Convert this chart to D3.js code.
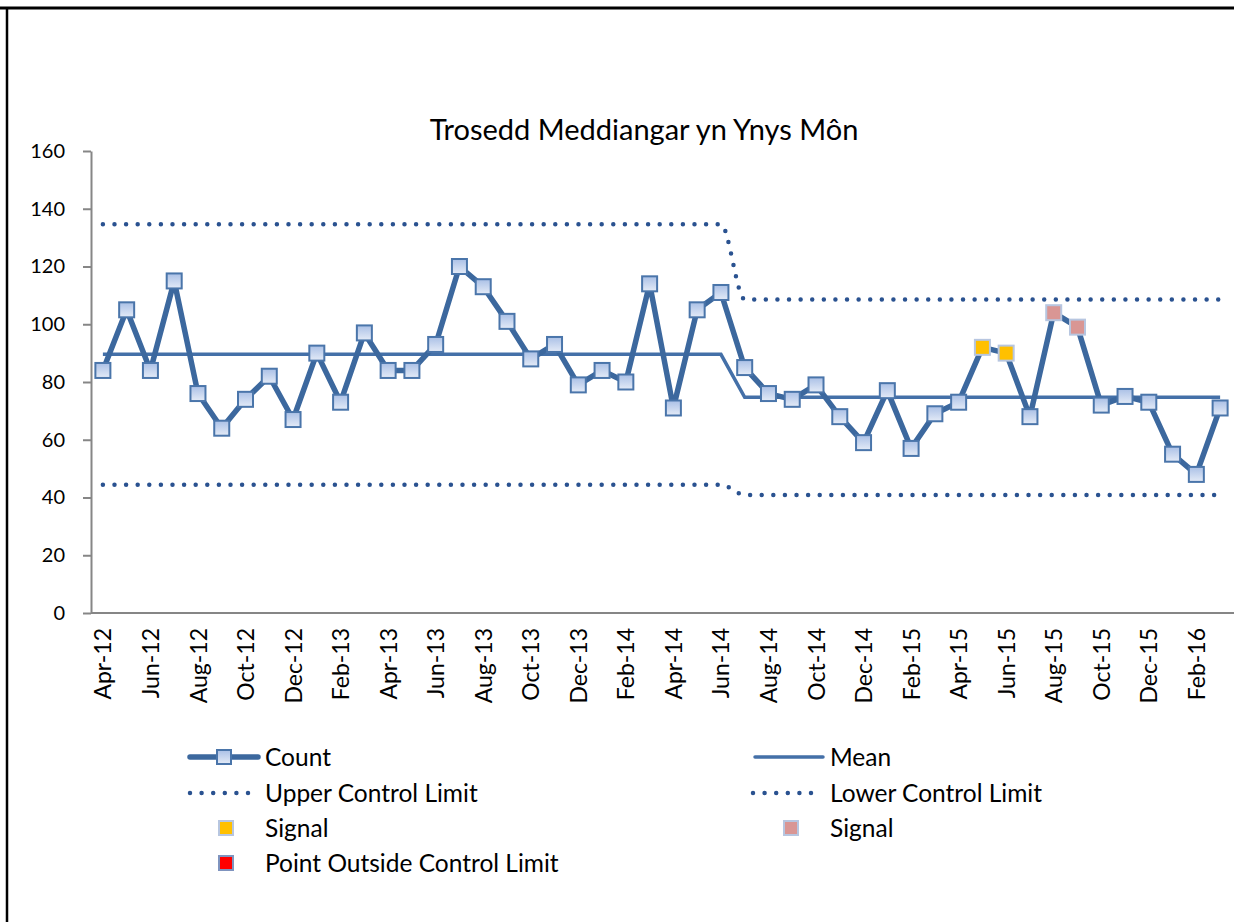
<!DOCTYPE html>
<html>
<head>
<meta charset="utf-8">
<script src="https://cdn.jsdelivr.net/npm/d3@7"></script>
<style>
  body { margin: 0; background: #fff; }
  svg { display: block; font-family: Lato, "Open Sans", sans-serif; }
</style>
</head>
<body>
<svg id="chart" width="1234" height="922"></svg>
<script>
// monthly counts, Apr-12 .. Mar-16
var months = ["Apr-12","May-12","Jun-12","Jul-12","Aug-12","Sep-12","Oct-12","Nov-12","Dec-12","Jan-13","Feb-13","Mar-13",
              "Apr-13","May-13","Jun-13","Jul-13","Aug-13","Sep-13","Oct-13","Nov-13","Dec-13","Jan-14","Feb-14","Mar-14",
              "Apr-14","May-14","Jun-14","Jul-14","Aug-14","Sep-14","Oct-14","Nov-14","Dec-14","Jan-15","Feb-15","Mar-15",
              "Apr-15","May-15","Jun-15","Jul-15","Aug-15","Sep-15","Oct-15","Nov-15","Dec-15","Jan-16","Feb-16","Mar-16"];
var counts = [84,105,84,115,76,64,74,82,67,90,73,97,
              84,84,93,120,113,101,88,93,79,84,80,114,
              71,105,111,85,76,74,79,68,59,77,57,69,
              73,92,90,68,104,99,72,75,73,55,48,71];
var mean = [89.6,89.6,89.6,89.6,89.6,89.6,89.6,89.6,89.6,89.6,89.6,89.6,
            89.6,89.6,89.6,89.6,89.6,89.6,89.6,89.6,89.6,89.6,89.6,89.6,
            89.6,89.6,89.6,74.7,74.7,74.7,74.7,74.7,74.7,74.7,74.7,74.7,
            74.7,74.7,74.7,74.7,74.7,74.7,74.7,74.7,74.7,74.7,74.7,74.7];
var ucl = [134.6,134.6,134.6,134.6,134.6,134.6,134.6,134.6,134.6,134.6,134.6,134.6,
           134.6,134.6,134.6,134.6,134.6,134.6,134.6,134.6,134.6,134.6,134.6,134.6,
           134.6,134.6,134.6,108.6,108.6,108.6,108.6,108.6,108.6,108.6,108.6,108.6,
           108.6,108.6,108.6,108.6,108.6,108.6,108.6,108.6,108.6,108.6,108.6,108.6];
var lcl = [44.4,44.4,44.4,44.4,44.4,44.4,44.4,44.4,44.4,44.4,44.4,44.4,
           44.4,44.4,44.4,44.4,44.4,44.4,44.4,44.4,44.4,44.4,44.4,44.4,
           44.4,44.4,44.4,40.9,40.9,40.9,40.9,40.9,40.9,40.9,40.9,40.9,
           40.9,40.9,40.9,40.9,40.9,40.9,40.9,40.9,40.9,40.9,40.9,40.9];
var signalRun = ["May-15","Jun-15"];      // yellow
var signalTrend = ["Aug-15","Sep-15"];    // pink
var outside = [];                         // none this period
var yTicks = [0,20,40,60,80,100,120,140,160];

var svg = d3.select("#chart");
var lineBlue = "#3c689e", dotBlue = "#2a5290", meanBlue = "#4470a8";

// frame
svg.append("line").attr("x1",0).attr("x2",1234).attr("y1",8).attr("y2",8)
    .attr("stroke","#000").attr("stroke-width",3);
svg.append("line").attr("x1",7).attr("x2",7).attr("y1",8).attr("y2",922)
    .attr("stroke","#000").attr("stroke-width",2.5);

var defs = svg.append("defs");
var grad = defs.append("linearGradient").attr("id","mk").attr("x1",0).attr("x2",0).attr("y1",0).attr("y2",1);
grad.append("stop").attr("offset","0%").attr("stop-color","#aac0e6");
grad.append("stop").attr("offset","100%").attr("stop-color","#e4ebf7");

var x = d3.scalePoint().domain(months).range([91, 1232]).padding(0.5);
var y = d3.scaleLinear().domain([0,160]).range([613,151]);

// y axis
var yAxis = svg.append("g").attr("transform","translate(91,0)")
    .call(d3.axisLeft(y).tickValues(yTicks).tickSize(8).tickPadding(18).tickSizeOuter(0));
yAxis.select(".domain").attr("stroke","#868686").attr("stroke-width",2);
yAxis.selectAll(".tick line").attr("stroke","#868686").attr("stroke-width",2);
yAxis.selectAll("text").attr("font-size",20).attr("fill","#000").attr("font-family","Lato");

// x axis
var xAxis = svg.append("g").attr("transform","translate(0,613)")
    .call(d3.axisBottom(x).tickValues(months.filter((m,i) => i % 2 === 0)).tickSize(0).tickSizeOuter(0));
xAxis.select(".domain").attr("d","M91,0H1234").attr("stroke","#868686").attr("stroke-width",2);
xAxis.selectAll("text")
    .attr("font-size",23).attr("fill","#000").attr("font-family","Lato")
    .attr("transform","rotate(-90)")
    .attr("text-anchor","end")
    .attr("x",-15).attr("y",0).attr("dy","0.35em");

// limits
function limitLine(vals){
    return d3.line().x((d,i) => x(months[i])).y(d => y(d)).curve(d3.curveMonotoneX)(vals);
}
[ucl, lcl].forEach(v => {
    svg.append("path").attr("d", limitLine(v)).attr("fill","none")
        .attr("stroke",dotBlue).attr("stroke-width",4.5)
        .attr("stroke-linecap","round").attr("stroke-dasharray","0,11.6");
});

// mean
svg.append("path")
    .attr("d", d3.line().x((d,i) => x(months[i])).y(d => y(d))(mean))
    .attr("fill","none").attr("stroke",meanBlue).attr("stroke-width",3.5);

// count
svg.append("path")
    .attr("d", d3.line().x((d,i) => x(months[i])).y(d => y(d))(counts))
    .attr("fill","none").attr("stroke",lineBlue).attr("stroke-width",5.5)
    .attr("stroke-linejoin","round");

function markerStyle(m){
    if (signalRun.includes(m)) return {fill:"#ffc000", stroke:"#b7c6e0"};
    if (signalTrend.includes(m)) return {fill:"#d99694", stroke:"#b7c6e0"};
    if (outside.includes(m)) return {fill:"#ff0000", stroke:"#7f94bf"};
    return {fill:"url(#mk)", stroke:"#4a75aa"};
}
svg.append("g").selectAll("rect").data(counts).join("rect")
    .attr("x",(d,i) => x(months[i]) - 7.5).attr("y", d => y(d) - 7.5)
    .attr("width",15).attr("height",15)
    .attr("fill",(d,i) => markerStyle(months[i]).fill)
    .attr("stroke",(d,i) => markerStyle(months[i]).stroke)
    .attr("stroke-width",2);

// title
svg.append("text").attr("x",644).attr("y",140).attr("text-anchor","middle")
    .attr("font-size",29).attr("font-family","Lato").text("Trosedd Meddiangar yn Ynys Môn");

// legend
var leg = svg.append("g").attr("font-size",24.5).attr("font-family","Lato");
function legText(tx, ty, s){ leg.append("text").attr("x",tx).attr("y",ty).attr("dy","0.35em").text(s); }
function legMarker(cx, cy, fill, stroke){
    leg.append("rect").attr("x",cx-7).attr("y",cy-7).attr("width",14).attr("height",14)
        .attr("fill",fill).attr("stroke",stroke).attr("stroke-width",2);
}
leg.append("line").attr("x1",190).attr("x2",258).attr("y1",757).attr("y2",757)
    .attr("stroke",lineBlue).attr("stroke-width",5.5).attr("stroke-linecap","round");
legMarker(224,757,"url(#mk)","#4a75aa");
legText(265,757,"Count");
leg.append("line").attr("x1",755).attr("x2",823).attr("y1",757).attr("y2",757)
    .attr("stroke",meanBlue).attr("stroke-width",3.5).attr("stroke-linecap","round");
legText(830,757,"Mean");
[[190,252,793],[753,815,793]].forEach(p => {
    leg.append("line").attr("x1",p[0]).attr("x2",p[1]).attr("y1",p[2]).attr("y2",p[2])
        .attr("stroke",dotBlue).attr("stroke-width",4.5)
        .attr("stroke-linecap","round").attr("stroke-dasharray","0,11.6");
});
legText(265,793,"Upper Control Limit");
legText(830,793,"Lower Control Limit");
legMarker(226,828,"#ffc000","#b7c6e0");
legText(265,828,"Signal");
legMarker(791,828,"#d99694","#b7c6e0");
legText(830,828,"Signal");
legMarker(226,863,"#ff0000","#7f94bf");
legText(265,863,"Point Outside Control Limit");
</script>
</body>
</html>
